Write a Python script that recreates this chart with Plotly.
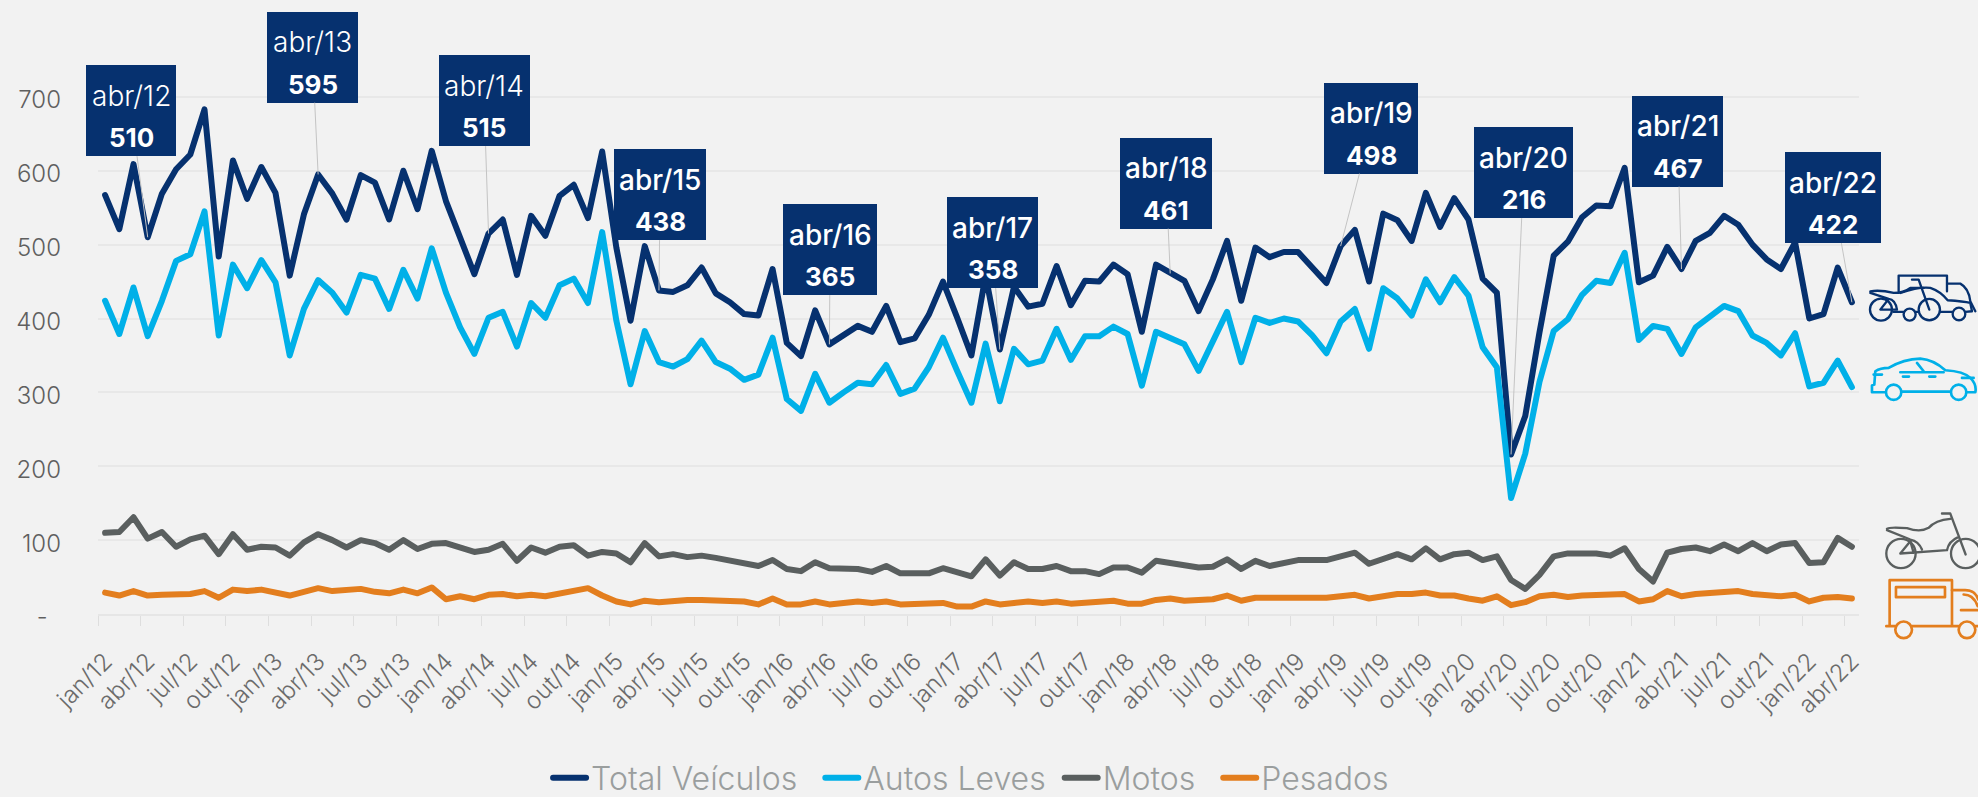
import base64
import plotly.graph_objects as go

months = ["jan", "fev", "mar", "abr", "mai", "jun", "jul", "ago", "set", "out", "nov", "dez"]
categories = [f"{months[i % 12]}/{12 + i // 12}" for i in range(124)]

total = [567,521,609,510,569,602,622,683,484,614,562,605,570,458,541,595,569,534,594,584,
         534,600,548,627,559,507,460,515,534,459,539,512,566,581,536,626,496,397,498,438,
         436,445,469,434,422,406,404,467,367,349,411,365,377,390,382,417,368,373,405,450,
         401,350,458,358,443,416,420,471,418,451,450,473,460,382,473,461,451,410,453,505,
         424,496,483,490,490,469,448,498,520,450,542,533,505,570,524,563,534,454,435,216,
         268,381,485,504,537,553,552,604,449,458,497,467,505,516,539,527,500,480,467,503,
         400,406,469,422]
autos = [424,379,442,376,424,478,487,545,377,473,441,479,449,350,413,452,435,408,459,454,
         413,466,427,495,435,388,352,401,409,362,421,401,445,454,421,517,397,311,383,341,
         335,345,370,341,332,317,324,374,291,275,325,286,300,313,311,337,298,305,334,374,
         329,286,366,288,359,338,343,386,344,376,376,389,379,309,382,374,365,329,370,409,
         341,401,394,400,396,377,353,396,413,359,441,427,404,453,422,456,431,361,334,157,
         217,314,383,399,432,451,448,489,371,390,386,352,388,403,417,410,377,367,350,380,
         308,313,343,307]
motos = [110,111,131,102,111,91,101,106,81,108,87,91,90,79,97,108,100,90,100,96,
         87,100,88,95,96,90,84,87,95,72,90,83,91,93,79,84,82,70,96,78,
         81,77,79,76,73,70,65,73,61,58,70,62,62,61,57,65,55,55,55,62,
         57,51,74,52,70,61,61,65,58,58,54,63,63,56,72,69,66,63,64,74,
         61,72,65,68,73,73,73,78,83,68,74,81,74,89,74,81,83,73,78,46,
         34,53,78,82,82,82,79,89,61,44,83,88,90,85,94,85,96,85,94,96,
         69,70,103,91]
pesados = [29,25,31,25,26,27,27,31,22,33,31,33,29,25,30,35,31,32,34,30,
           28,33,28,36,20,24,20,26,27,24,26,24,28,32,35,25,17,13,18,16,
           18,19,19,18,18,17,13,21,13,13,17,13,15,17,15,17,13,13,13,15,
           10,10,17,13,15,17,15,17,14,16,16,18,14,14,19,21,18,18,20,25,
           18,22,22,22,20,20,22,24,26,21,25,27,27,29,25,25,21,18,24,12,
           16,24,26,23,25,25,25,27,17,20,31,24,27,29,30,31,27,25,24,26,
           17,22,23,21]

series_names = ["Total Veículos", "Autos Leves", "Motos", "Pesados"]
series_padding = [2, 1, 2, 0]
series_values = [total, autos, motos, pesados]
series_colors = ["#06316f", "#00b0e8", "#5a5f5f", "#e37e1e"]

tick_index = list(range(0, 124, 3))
tick_labels = [categories[i] for i in tick_index]
y_ticks = [0, 100, 200, 300, 400, 500, 600, 700]
y_labels = ["-\u00a0\u00a0", "100", "200", "300", "400", "500", "600", "700"]

callout_index = [3, 15, 27, 39, 51, 63, 75, 87, 99, 111, 123]
callout_centres = [(131, 111), (312.5, 57.5), (484, 101), (660, 195), (830, 250), (992.5, 243),
                   (1166, 183.5), (1371, 128.5), (1523.5, 173), (1677.5, 141.5), (1833, 198)]
callout_widths = [90, 91, 91, 92, 94, 91, 92, 94, 99, 91, 96]
callout_weights = [300, 300, 300, 500, 500, 500, 500, 500, 500, 500, 500]

W, H = 1978, 797
L, R, B_PX = 98.0, 1858.7, 614.5
T_PX = 23.3
FONT = "Inter"
BG = "#f2f2f2"
NAVY = "#06316f"


def xpx(i):
    return L + (i + 0.5) * (R - L) / 124


def ypx(v):
    return B_PX - v * (B_PX - T_PX) / 800


def xp(px):
    return (px - L) / (R - L)


def yp(px):
    return (B_PX - px) / (B_PX - T_PX)


fig = go.Figure()
for name, pad, vals, col in zip(series_names, series_padding, series_values, series_colors):
    fig.add_trace(go.Scatter(x=list(range(124)), y=vals, mode="lines", name=name + "\u00a0" * pad,
                             line=dict(color=col, width=6), hoverinfo="skip"))

annotations = []
for i, (cx, cy), w, wt in zip(callout_index, callout_centres, callout_widths, callout_weights):
    annotations.append(dict(x=i, y=total[i], xref="x", yref="y", ax=cx - xpx(i), ay=cy - ypx(total[i]),
                            text=" ", showarrow=True, arrowhead=0, arrowwidth=1, arrowcolor="#c4c4c4",
                            bgcolor=NAVY, width=w, height=91, borderpad=0, borderwidth=0,
                            font=dict(size=10)))
    annotations.append(dict(x=xp(cx), y=yp(cy - 15), xref="paper", yref="paper", showarrow=False,
                            text=categories[i], font=dict(family=FONT, size=28, color="white", weight=wt),
                            xanchor="center", yanchor="middle"))
    annotations.append(dict(x=xp(cx), y=yp(cy + 27), xref="paper", yref="paper", showarrow=False,
                            text=f"<b>{total[i]}</b>", font=dict(family=FONT, size=26, color="white"),
                            xanchor="center", yanchor="middle"))

S = '<svg xmlns="http://www.w3.org/2000/svg" viewBox="0 0 354 {h}" width="354" height="{h}">{b}</svg>'
G = '<g fill="none" stroke="{c}" stroke-width="{w}" stroke-linecap="round" stroke-linejoin="round">{b}</g>'
combo = ('<path d="M115 95L115 48L260 48L260 95M260 72L300 72Q325 85 330 125L345 155"/>'
         '<path d="M120 100Q180 80 210 85Q240 95 262 122Q310 125 330 130L335 155L315 157M275 157L240 157M172 157L165 157M130 157L100 157"/>'
         '<circle cx="296" cy="163" r="19"/><circle cx="148" cy="165" r="18"/><circle cx="207" cy="150" r="32"/><circle cx="62" cy="150" r="33"/>'
         '<path d="M30 95Q60 90 100 100Q130 100 150 85L190 85M155 60L175 60L207 150M30 100L85 118Q105 120 110 150L60 150L85 118"/>')
car = ('<path d="M42 398L35 398L35 378L42 375L45 335Q60 325 85 325Q130 298 180 297Q220 300 255 332Q310 335 330 355Q350 375 345 398L320 398M270 396L125 396M75 398L42 398"/>'
       '<circle cx="100" cy="398" r="23"/><circle cx="295" cy="398" r="23"/>'
       '<path d="M120 338L250 338M170 310L190 335M128 351L146 351M207 351L225 351M305 355L340 355M40 345L65 345"/>')
moto = ('<circle cx="122" cy="162" r="44"/><circle cx="316" cy="162" r="44"/>'
        '<path d="M80 88Q85 82 140 86Q180 100 205 85Q225 62 270 58M245 42L270 42L316 165M80 92L150 120Q175 125 185 150M120 162L150 125L160 160M120 162L260 152Q265 125 295 112"/>')
truck = ('<path d="M88 380L88 242L275 242L275 380M78 380L105 380M155 380L295 380M345 380L354 380"/>'
         '<rect x="107" y="263" width="147" height="30"/>'
         '<path d="M275 272L315 272Q345 272 354 300M310 285Q340 285 352 320M302 332L354 332"/>'
         '<circle cx="130" cy="391" r="25"/><circle cx="320" cy="391" r="25"/>')


def uri(body):
    svg = S.format(h=450, b=body)
    return "data:image/svg+xml;base64," + base64.b64encode(svg.encode()).decode()


images = []
for top, body in [(260, G.format(c=NAVY, w=7, b=combo) + G.format(c="#00b0e8", w=8, b=car)),
                  (500, G.format(c="#5a5f5f", w=7, b=moto) + G.format(c="#e37e1e", w=8, b=truck))]:
    images.append(dict(source=uri(body), xref="paper", yref="paper", x=xp(1860), y=yp(top),
                       sizex=118 / (R - L), sizey=150 / (B_PX - T_PX), sizing="stretch",
                       xanchor="left", yanchor="top", layer="above"))

fig.update_layout(
    width=W, height=H, paper_bgcolor=BG, plot_bgcolor=BG, showlegend=True,
    margin=dict(l=L, r=W - R, t=T_PX, b=H - B_PX, pad=0, autoexpand=False),
    font=dict(family=FONT, color="#595959"),
    xaxis=dict(range=[-0.5, 123.5], tickmode="array", tickvals=tick_index, ticktext=tick_labels,
               tickangle=-45, ticks="", showgrid=False, zeroline=False, showline=True,
               linecolor="#e6e6e6", linewidth=1.5, ticklabelstandoff=22,
               tickfont=dict(family=FONT, size=24, color="#6b6b6b", weight=300),
               minor=dict(tickmode="array", tickvals=[i - 0.5 for i in tick_index], ticks="outside",
                          ticklen=10, tickcolor="#dedede", tickwidth=1.2, showgrid=False)),
    yaxis=dict(range=[0, 800], tickmode="array", tickvals=y_ticks, ticktext=y_labels, showgrid=True,
               gridcolor="#e8e8e8", gridwidth=1.5, zeroline=False, showline=False, ticks="",
               ticklabelstandoff=36, ticklabelshift=3,
               tickfont=dict(family=FONT, size=24, color="#5f5f5f", weight=300)),
    legend=dict(orientation="h", x=xp(548), xanchor="left", y=yp(806), yanchor="bottom",
                font=dict(family=FONT, size=32, color="#9a9e9e", weight=300), itemwidth=33,
                bgcolor="rgba(0,0,0,0)", traceorder="normal"),
    annotations=annotations, images=images,
)

post = ("document.body.style.margin='0';document.body.style.background='#f2f2f2';"
        "var s=document.createElement('style');"
        "s.textContent='.scatterlayer .js-line,.legendlines path{stroke-linecap:round;stroke-linejoin:round}';"
        "document.head.appendChild(s);")
fig.write_html("out.html", post_script=post, config=dict(displayModeBar=False))
